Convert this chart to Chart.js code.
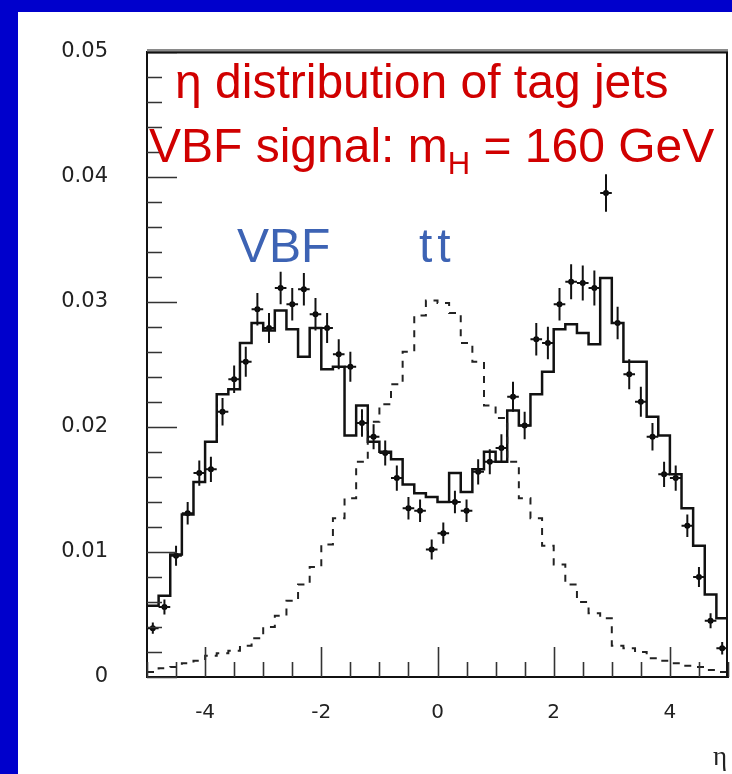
<!DOCTYPE html>
<html>
<head>
<meta charset="utf-8">
<title>eta distribution of tag jets</title>
<script src="https://cdn.jsdelivr.net/npm/chart.js@4.4.0/dist/chart.umd.min.js"></script>
<style>
  body { margin: 0; background: #0000cc; width: 732px; height: 774px; overflow: hidden; position: relative; font-family: "Liberation Sans", Arial, sans-serif; }
  #panel { position: absolute; left: 18px; top: 12px; width: 714px; height: 762px; background: #fff; }
  #chart { position: absolute; left: 0; top: 0; }
  .lbl { position: absolute; white-space: nowrap; line-height: 1; }
  .red { color: #d00000; font-size: 48px; }
  .blue { color: #3d63b4; font-size: 48px; }
</style>
</head>
<body>
<div id="panel"></div>
<canvas id="chart" width="732" height="774"></canvas>

<div class="lbl red" style="left:175px; top:58px;">&eta; distribution of tag jets</div>
<div class="lbl red" style="left:149px; top:122px;">VBF signal: m<span style="font-size:31px; position:relative; top:12px;">H</span> = 160 GeV</div>
<div class="lbl blue" style="left:237px; top:222px;">VBF</div>
<div class="lbl blue" style="left:419px; top:222px; letter-spacing:5px;">tt</div>
<div class="lbl" style="left:713px; top:743px; font-family:'Liberation Serif', serif; font-size:27px; color:#222;">&eta;</div>

<script>
// bin edges in eta (50 bins of 0.2)
const binEdges = [-5.0, -4.8, -4.6, -4.4, -4.2, -4.0, -3.8, -3.6, -3.4, -3.2,
  -3.0, -2.8, -2.6, -2.4, -2.2, -2.0, -1.8, -1.6, -1.4, -1.2,
  -1.0, -0.8, -0.6, -0.4, -0.2, 0.0, 0.2, 0.4, 0.6, 0.8,
  1.0, 1.2, 1.4, 1.6, 1.8, 2.0, 2.2, 2.4, 2.6, 2.8,
  3.0, 3.2, 3.4, 3.6, 3.8, 4.0, 4.2, 4.4, 4.6, 4.8, 5.0];

// VBF signal, solid histogram
const vbfHist = [0.0057, 0.0065, 0.0098, 0.0130, 0.0156, 0.0188, 0.0226, 0.0230, 0.0267, 0.0283,
  0.0277, 0.0293, 0.0278, 0.0256, 0.0279, 0.0246, 0.0248, 0.0193, 0.0217, 0.0188,
  0.0180, 0.0174, 0.0154, 0.0147, 0.0144, 0.0140, 0.0163, 0.0148, 0.0166, 0.0180,
  0.0172, 0.0213, 0.0201, 0.0226, 0.0244, 0.0278, 0.0282, 0.0275, 0.0266, 0.0319,
  0.0283, 0.0252, 0.0252, 0.0208, 0.0193, 0.0162, 0.0135, 0.0105, 0.0066, 0.0047];

// ttbar background, dashed histogram
const ttHist = [0.0004, 0.0007, 0.0008, 0.0011, 0.0013, 0.0017, 0.0019, 0.0021, 0.0025, 0.0031,
  0.0040, 0.0049, 0.0061, 0.0074, 0.0088, 0.0106, 0.0127, 0.0143, 0.0172, 0.0204,
  0.0218, 0.0234, 0.0260, 0.0289, 0.0301, 0.0299, 0.0291, 0.0267, 0.0252, 0.0217,
  0.0207, 0.0172, 0.0143, 0.0127, 0.0105, 0.0090, 0.0074, 0.0060, 0.0051, 0.0047,
  0.0025, 0.0023, 0.0020, 0.0015, 0.0013, 0.0011, 0.0009, 0.0008, 0.00055, 0.0004];

// points with error bars
const pointVals = [0.0039, 0.0056, 0.0097, 0.0131, 0.0163, 0.0166, 0.0212, 0.0238, 0.0252, 0.0294,
  0.0279, 0.0311, 0.0298, 0.0310, 0.0290, 0.0279, 0.0258, 0.0248, 0.0203, 0.0192,
  0.0179, 0.0159, 0.0135, 0.0133, 0.0102, 0.0115, 0.0140, 0.0133, 0.0164, 0.0172,
  0.0183, 0.0224, 0.0201, 0.0270, 0.0267, 0.0298, 0.0316, 0.0315, 0.0311, 0.0387,
  0.0283, 0.0242, 0.0220, 0.0192, 0.0162, 0.0159, 0.0121, 0.0080, 0.0045, 0.0023];

const pointErr = [0.00045, 0.0006, 0.0008, 0.0009, 0.0010, 0.0010, 0.0011, 0.0011, 0.0012, 0.0013,
  0.0012, 0.0013, 0.0013, 0.0013, 0.0013, 0.0012, 0.0012, 0.0012, 0.0011, 0.0010,
  0.0010, 0.0010, 0.0009, 0.0009, 0.0008, 0.00085, 0.0009, 0.0009, 0.0010, 0.0010,
  0.0011, 0.0012, 0.0011, 0.0013, 0.0013, 0.0013, 0.0014, 0.0014, 0.0014, 0.0015,
  0.0013, 0.0012, 0.0012, 0.0011, 0.0010, 0.0010, 0.0009, 0.0008, 0.0006, 0.0005];

const xTickValues = [-4, -2, 0, 2, 4];
const xTickLabels = ['-4', '-2', '0', '2', '4'];
const yTickValues = [0, 0.01, 0.02, 0.03, 0.04, 0.05];
const yTickLabels = ['0', '0.01', '0.02', '0.03', '0.04', '0.05'];

function histPoints(vals) {
  const pts = vals.map((v, i) => ({x: binEdges[i], y: v}));
  pts.push({x: binEdges[vals.length], y: vals[vals.length - 1]});
  return pts;
}

let dots = [], vBars = [], hBars = [];
pointVals.forEach((v, i) => {
  const c = (binEdges[i] + binEdges[i + 1]) / 2;
  dots.push({x: c, y: v});
  vBars.push({x: c, y: v - pointErr[i]}, {x: c, y: v + pointErr[i]}, {x: c, y: null});
  hBars.push({x: binEdges[i], y: v}, {x: binEdges[i + 1], y: v}, {x: binEdges[i + 1], y: null});
});

// inward tick marks + top/right frame
const frameTicks = {
  id: 'frameTicks',
  afterDraw(chart) {
    const {ctx, chartArea: a, scales: {x, y}} = chart;
    ctx.save();
    ctx.strokeStyle = '#333';
    ctx.lineWidth = 1.6;
    ctx.beginPath();
    for (let k = -10; k <= 10; k++) {
      const px = Math.round(x.getPixelForValue(k / 2)) + 0.5;
      const len = (k % 4 === 0) ? 30 : 15;
      ctx.moveTo(px, a.bottom);
      ctx.lineTo(px, a.bottom - len);
    }
    for (let k = 0; k <= 25; k++) {
      const py = Math.round(y.getPixelForValue(k * 0.002)) + 0.5;
      const len = (k % 5 === 0) ? 30 : 15;
      ctx.moveTo(a.left, py);
      ctx.lineTo(a.left + len, py);
    }
    ctx.stroke();

    ctx.strokeStyle = '#8a8a8a';
    ctx.lineWidth = 3;
    ctx.beginPath();
    ctx.moveTo(a.left, a.top - 1);
    ctx.lineTo(a.right, a.top - 1);
    ctx.stroke();
    ctx.strokeStyle = '#111';
    ctx.lineWidth = 2;
    ctx.beginPath();
    ctx.moveTo(a.left, a.top + 1);
    ctx.lineTo(a.right, a.top + 1);
    ctx.moveTo(a.right - 1, a.top);
    ctx.lineTo(a.right - 1, a.bottom);
    ctx.stroke();
    ctx.restore();
  }
};

new Chart(document.getElementById('chart'), {
  type: 'line',
  data: {
    datasets: [
      {
        label: 'tt',
        data: histPoints(ttHist),
        stepped: 'before',
        borderColor: '#222',
        borderWidth: 2,
        borderDash: [7, 7],
        pointRadius: 0,
        fill: false
      },
      {
        label: 'VBF',
        data: histPoints(vbfHist),
        stepped: 'before',
        borderColor: '#111',
        borderWidth: 2.5,
        pointRadius: 0,
        fill: false
      },
      {
        label: 'err',
        data: vBars,
        borderColor: '#111',
        borderWidth: 2,
        pointRadius: 0,
        spanGaps: false,
        fill: false
      },
      {
        label: 'bin',
        data: hBars,
        borderColor: '#111',
        borderWidth: 2,
        pointRadius: 0,
        spanGaps: false,
        fill: false
      },
      {
        label: 'data',
        data: dots,
        showLine: false,
        pointRadius: 3,
        pointBackgroundColor: '#000',
        pointBorderColor: '#000',
        pointBorderWidth: 0
      }
    ]
  },
  options: {
    responsive: false,
    animation: false,
    layout: { padding: { top: 47, right: 2, left: 0, bottom: 0 } },
    plugins: { legend: { display: false }, tooltip: { enabled: false } },
    scales: {
      x: {
        type: 'linear',
        min: -5,
        max: 5,
        afterBuildTicks: s => { s.ticks = xTickValues.map(v => ({value: v})); },
        afterFit: s => { s.height = 97; },
        grid: { display: false, drawTicks: false },
        border: { display: true, color: '#111', width: 2 },
        ticks: {
          autoSkip: false,
          maxRotation: 0,
          padding: 24,
          color: '#222',
          font: { family: 'DejaVu Sans', size: 20 },
          callback: (v, i) => xTickLabels[i]
        }
      },
      y: {
        min: 0,
        max: 0.05,
        afterBuildTicks: s => { s.ticks = yTickValues.map(v => ({value: v})); },
        afterFit: s => { s.width = 147; },
        grid: { display: false, drawTicks: false },
        border: { display: true, color: '#111', width: 2 },
        ticks: {
          padding: 39,
          color: '#222',
          font: { family: 'DejaVu Sans', size: 21 },
          callback: (v, i) => yTickLabels[i]
        }
      }
    }
  },
  plugins: [frameTicks]
});
</script>
</body>
</html>
